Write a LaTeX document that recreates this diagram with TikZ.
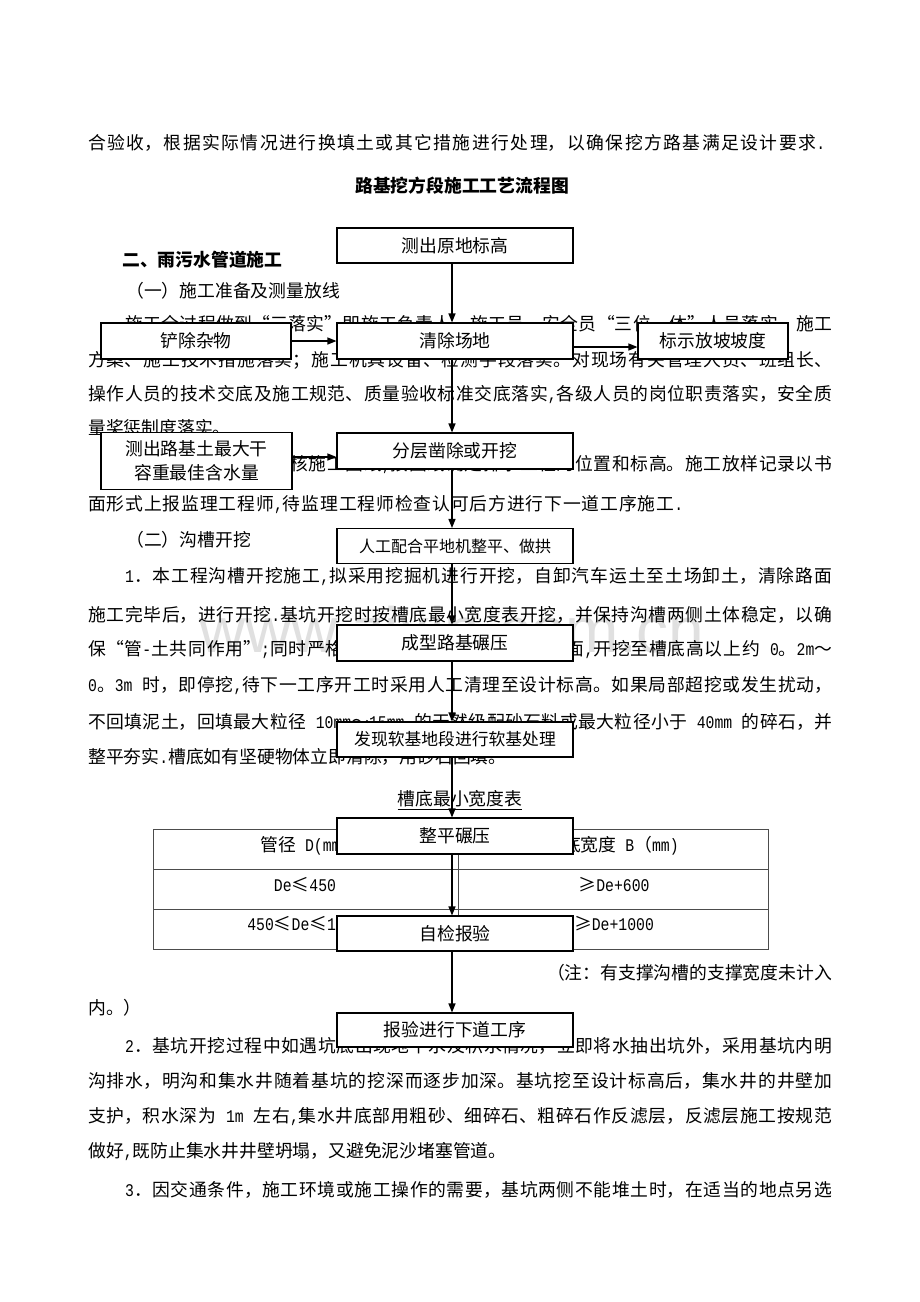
\documentclass[tikz,border=0pt]{standalone}
\usepackage{fontspec}
\setmainfont{Noto Sans CJK SC}
\newfontfamily\monoA[FakeStretch=0.83]{Liberation Mono}
\newfontfamily\wmfont{Liberation Sans}
\newcommand\asc[1]{{\monoA #1}}
\XeTeXlinebreaklocale "zh"
\XeTeXlinebreakskip=0pt plus 3pt minus 0.2pt
\usetikzlibrary{arrows.meta}
\newcommand\jl[5]{\node[anchor=west] (#1) at (#2,#3) {\parbox{\dimexpr #4pt-#2pt\relax}{\tolerance=10000\parfillskip=0pt\noindent #5}};}
\newcommand\nl[4]{\node[anchor=west] (#1) at (#2,#3) {#4};}
\begin{document}
\begin{tikzpicture}[x=1pt,y=-1pt,
  every node/.style={font=\fontsize{17.8}{21}\selectfont, inner sep=0pt},
  box/.style={draw, line width=1.1pt, fill=white, minimum width=236pt, minimum height=36pt, align=center},
  arr/.style={line width=1.3pt, -{Triangle[length=9pt,width=7pt]}},
  tbl/.style={line width=0.9pt, draw=black!70}]
\fill[white] (0,0) rectangle (920,1302);
\useasboundingbox (0,0) rectangle (920,1302);

% watermark
\node[font=\wmfont\fontsize{64}{70}\selectfont, text=black!12] (wm) at (452,630) {www.zixin.com.cn};

% body text
\jl{l1}{88}{143}{825}{合验收，根据实际情况进行换填土或其它措施进行处理，以确保挖方路基满足设计要求\asc{.}}
\node[font=\fontsize{17.8}{21}\selectfont\bfseries] (title) at (462,186) {路基挖方段施工工艺流程图};
\node[anchor=west,font=\fontsize{17.8}{21}\selectfont\bfseries] (h2) at (122,260) {二、雨污水管道施工};
\nl{h21}{126}{291}{（一）施工准备及测量放线}
\jl{l5}{125}{324}{832}{施工全过程做到“三落实”即施工负责人、施工员、安全员“三位一体”人员落实，施工}
\jl{l6}{88}{360}{832}{方案、施工技术措施落实；施工机具设备、检测手段落实。对现场有关管理人员、班组长、}
\jl{l7}{88}{394}{832}{操作人员的技术交底及施工规范、质量验收标准交底落实\asc{,}各级人员的岗位职责落实，安全质}
\nl{l8}{88}{428}{量奖惩制度落实。}
\jl{l9}{125}{465}{832}{测量放线：应认真复核施工图纸\asc{,}按图纸确定排水工程的位置和标高。施工放样记录以书}
\jl{l10}{88}{505}{683}{面形式上报监理工程师\asc{,}待监理工程师检查认可后方进行下一道工序施工\asc{.}}
\nl{h22}{126}{540}{（二）沟槽开挖}
\jl{l12}{125}{577}{832}{\asc{1}．本工程沟槽开挖施工\asc{,}拟采用挖掘机进行开挖，自卸汽车运土至土场卸土，清除路面}
\jl{l13}{88}{615}{832}{施工完毕后，进行开挖\asc{.}基坑开挖时按槽底最小宽度表开挖，并保持沟槽两侧土体稳定，以确}
\jl{l14}{88}{650}{832}{保“管\asc{-}土共同作用”\asc{;}同时严格控制开挖深度，避免扰动基面\asc{,}开挖至槽底高以上约\asc{ 0}。\asc{2m}～}
\jl{l15}{88}{686}{832}{\asc{0}。\asc{3m }时，即停挖\asc{,}待下一工序开工时采用人工清理至设计标高。如果局部超挖或发生扰动，}
\jl{l16}{88}{722}{832}{不回填泥土，回填最大粒径\asc{ 10mm}～\asc{15mm }的天然级配砂石料或最大粒径小于\asc{ 40mm }的碎石，并}
\nl{l17}{88}{757}{整平夯实\asc{.}槽底如有坚硬物体立即清除，用砂石回填。}
\node (tcap) at (460,800) {\underline{槽底最小宽度表}};

% table
\draw[tbl] (153,829) rectangle (768,949);
\draw[tbl] (153,869) -- (768,869);
\draw[tbl] (153,909) -- (768,909);
\draw[tbl] (458,829) -- (458,949);
\node (t11) at (305,846) {管径\asc{ D(mm)}};
\node (t12) at (612,846) {槽底宽度\asc{ B}（\asc{mm)}};
\node (t21) at (305,885) {\asc{De}≤\asc{450}};
\node (t22) at (614,885) {≥\asc{De+600}};
\node (t31) at (305,924) {\asc{450}≤\asc{De}≤\asc{1000}};
\node (t32) at (614,924) {≥\asc{De+1000}};

\node[anchor=east] (note) at (832,973) {（注：有支撑沟槽的支撑宽度未计入};
\nl{l21}{88}{1008}{内。）}
\jl{l22}{125}{1046}{832}{\asc{2}．基坑开挖过程中如遇坑底出现地下水及积水情况，立即将水抽出坑外，采用基坑内明}
\jl{l23}{88}{1081}{832}{沟排水，明沟和集水井随着基坑的挖深而逐步加深。基坑挖至设计标高后，集水井的井壁加}
\jl{l24}{88}{1117}{832}{支护，积水深为\asc{ 1m }左右\asc{,}集水井底部用粗砂、细碎石、粗碎石作反滤层，反滤层施工按规范}
\nl{l25}{88}{1152}{做好\asc{,}既防止集水井井壁坍塌，又避免泥沙堵塞管道。}
\jl{l26}{125}{1190}{832}{\asc{3}．因交通条件，施工环境或施工操作的需要，基坑两侧不能堆土时，在适当的地点另选}

% flowchart boxes
\node[box, minimum height=35pt] (A) at (455,245.5) {测出原地标高};
\node[box] (B) at (455,341) {清除场地};
\node[box, minimum width=190pt] (C) at (196,341) {铲除杂物};
\node[box, minimum width=150pt] (D) at (713,341) {标示放坡坡度};
\node[box] (E) at (455,451) {分层凿除或开挖};
\node[box, minimum width=191pt, minimum height=57pt, font=\fontsize{17.8}{24}\selectfont] (F) at (196.5,461) {测出路基土最大干\\容重最佳含水量};
\node[box, minimum height=35pt, font=\fontsize{16}{20}\selectfont] (G) at (455,546) {人工配合平地机整平、做拱};
\node[box] (H) at (455,643) {成型路基碾压};
\node[box, minimum height=35pt, font=\fontsize{16.8}{20}\selectfont] (I) at (455,739.5) {发现软基地段进行软基处理};
\node[box] (J) at (455,836) {整平碾压};
\node[box, minimum height=35pt] (K) at (455,933.5) {自检报验};
\node[box, minimum height=34pt] (L) at (455,1030) {报验进行下道工序};

% connectors
\draw[arr] ([xshift=-3pt]A.south) -- ([xshift=-3pt]B.north);
\draw[arr] ([xshift=-3pt]B.south) -- ([xshift=-3pt]E.north);
\draw[arr] ([xshift=-3pt]E.south) -- ([xshift=-3pt]G.north);
\draw[arr] ([xshift=-3pt]G.south) -- ([xshift=-3pt]H.north);
\draw[arr] ([xshift=-3pt]H.south) -- ([xshift=-3pt]I.north);
\draw[arr] ([xshift=-3pt]I.south) -- ([xshift=-3pt]J.north);
\draw[arr] ([xshift=-3pt]J.south) -- ([xshift=-3pt]K.north);
\draw[arr] ([xshift=-3pt]K.south) -- ([xshift=-3pt]L.north);
\draw[arr] (C) -- (B);
\draw[arr] ([yshift=-6pt]B.east) -- ([yshift=-6pt]D.west);
\draw[arr] ([yshift=4pt]F.east) -- ([yshift=4pt]F.east -| E.west);
\end{tikzpicture}
\end{document}
